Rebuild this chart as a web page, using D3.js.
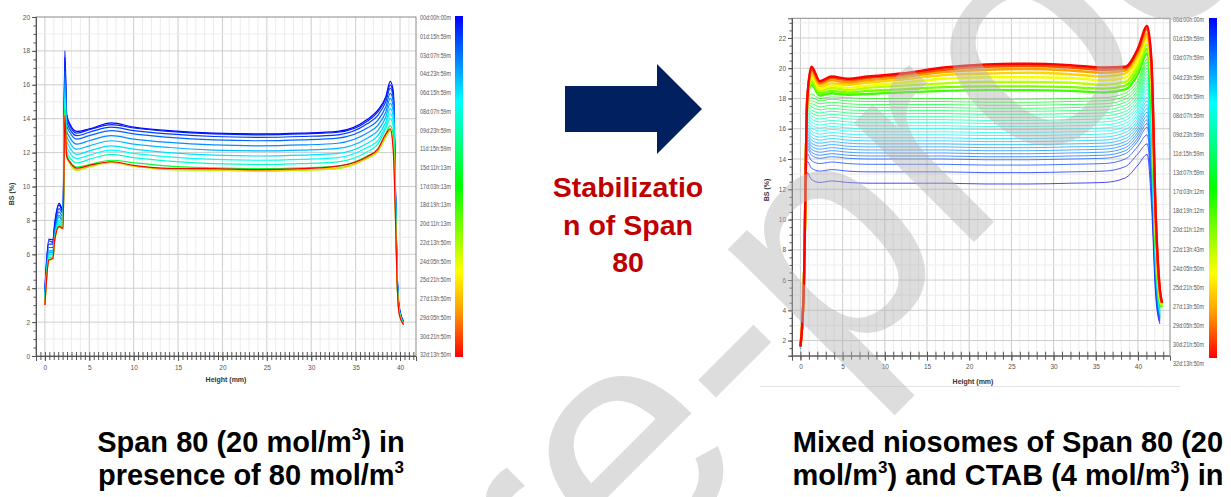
<!DOCTYPE html>
<html>
<head>
<meta charset="utf-8">
<script src="https://cdn.jsdelivr.net/npm/d3@7"></script>
<style>
  body { margin: 0; background: #fff; }
  svg { display: block; }
</style>
</head>
<body>
<svg id="fig" width="1231" height="497"></svg>
<script>
// ---- left panel: Span 80 + 80 mol/m3 ----
var heightsLeft = [0, 0.45, 0.9, 1.1, 1.6, 2.05, 2.25, 2.45, 2.8, 3.6, 5, 7.5, 10, 14, 19, 24, 29, 33, 36.3, 37.5, 38.4, 38.9, 39.25, 39.5, 39.65, 39.9, 40.4];
var timesLeft = [0, 0.03, 0.06, 0.10, 0.14, 0.18, 0.22, 0.26, 0.30, 0.45, 0.65, 0.82, 1.0];
var bsLeft = [
  [3.9, 6.9, 6.85, 7.8, 9.0, 8.6, 18.0, 14.3, 13.7, 13.25, 13.4, 13.75, 13.5, 13.3, 13.15, 13.1, 13.15, 13.25, 13.95, 14.5, 15.3, 16.2, 15.6, 9.5, 5.5, 2.9, 2.05],
  [3.8, 6.8, 6.7, 7.7, 8.9, 8.5, 17.6, 14.1, 13.6, 13.15, 13.35, 13.65, 13.45, 13.25, 13.1, 13.05, 13.1, 13.2, 13.85, 14.4, 15.2, 16.0, 15.4, 9.4, 5.4, 2.9, 2.0],
  [3.7, 6.6, 6.6, 7.5, 8.7, 8.4, 17.2, 13.9, 13.4, 13.0, 13.2, 13.5, 13.3, 13.1, 12.95, 12.9, 12.95, 13.05, 13.7, 14.2, 15.0, 15.8, 15.2, 9.3, 5.3, 2.8, 1.98],
  [3.6, 6.4, 6.4, 7.3, 8.5, 8.2, 16.8, 13.6, 13.2, 12.8, 13.0, 13.3, 13.1, 12.9, 12.75, 12.7, 12.75, 12.85, 13.45, 13.9, 14.7, 15.5, 15.0, 9.2, 5.2, 2.8, 1.97],
  [3.5, 6.2, 6.2, 7.1, 8.3, 8.0, 16.4, 13.3, 12.9, 12.5, 12.7, 13.0, 12.8, 12.6, 12.45, 12.4, 12.45, 12.55, 13.15, 13.6, 14.4, 15.2, 14.7, 9.1, 5.1, 2.75, 1.95],
  [3.4, 6.1, 6.1, 7.0, 8.2, 7.9, 16.0, 13.0, 12.6, 12.2, 12.4, 12.7, 12.5, 12.3, 12.15, 12.1, 12.15, 12.25, 12.85, 13.3, 14.1, 14.9, 14.4, 9.0, 5.0, 2.7, 1.94],
  [3.3, 6.0, 6.0, 6.9, 8.0, 7.8, 15.6, 12.7, 12.3, 11.9, 12.1, 12.4, 12.2, 12.0, 11.85, 11.8, 11.85, 11.95, 12.55, 13.0, 13.8, 14.6, 14.1, 8.8, 5.0, 2.7, 1.92],
  [3.2, 5.9, 5.9, 6.9, 7.9, 7.7, 15.2, 12.4, 12.0, 11.65, 11.85, 12.15, 11.95, 11.75, 11.6, 11.55, 11.6, 11.7, 12.3, 12.7, 13.6, 14.3, 13.8, 8.7, 4.9, 2.65, 1.9],
  [3.1, 5.8, 5.8, 6.8, 7.8, 7.6, 14.9, 12.1, 11.7, 11.4, 11.6, 11.9, 11.7, 11.5, 11.35, 11.3, 11.35, 11.45, 12.05, 12.5, 13.4, 14.0, 13.5, 8.5, 4.9, 2.6, 1.88],
  [3.05, 5.7, 5.75, 6.8, 7.7, 7.55, 14.6, 11.9, 11.5, 11.15, 11.3, 11.55, 11.4, 11.2, 11.1, 11.05, 11.1, 11.2, 11.8, 12.2, 13.1, 13.6, 13.0, 8.3, 4.8, 2.6, 1.86],
  [3.0, 5.65, 5.7, 6.8, 7.6, 7.5, 14.3, 11.8, 11.35, 10.95, 11.15, 11.4, 11.2, 11.0, 10.95, 10.9, 10.95, 11.05, 11.65, 12.05, 12.9, 13.3, 12.5, 8.1, 4.8, 2.55, 1.85],
  [3.0, 5.65, 5.75, 6.8, 7.6, 7.5, 14.2, 11.8, 11.4, 11.0, 11.2, 11.45, 11.2, 11.05, 11.0, 10.95, 11.0, 11.1, 11.7, 12.1, 13.0, 13.35, 12.3, 8.0, 4.8, 2.55, 1.85],
  [3.0, 5.66, 5.76, 6.84, 7.63, 7.53, 14.2, 11.8, 11.45, 11.08, 11.25, 11.46, 11.25, 11.07, 11.05, 11.0, 11.05, 11.2, 11.76, 12.2, 13.1, 13.4, 12.0, 7.9, 4.7, 2.5, 1.85]
];
var legendLeft = ["00d:00h:00m", "01d:15h:59m", "03d:07h:59m", "04d:23h:59m", "06d:15h:59m", "08d:07h:59m", "09d:23h:59m", "11d:15h:59m", "15d:11h:13m", "17d:03h:13m", "18d:19h:13m", "20d:11h:13m", "22d:13h:50m", "24d:05h:50m", "25d:21h:50m", "27d:13h:50m", "29d:05h:50m", "30d:21h:50m", "32d:13h:50m"];

// ---- right panel: mixed niosomes Span 80 + CTAB ----
var heightsRight = [0, 0.4, 0.8, 1.3, 2.3, 3.7, 5.6, 8, 12, 17, 22, 27, 32, 36, 38.5, 40, 41.1, 41.6, 42.1, 42.6, 42.85];
var timesRight = [0, 0.03, 0.06, 0.09, 0.105, 0.12, 0.135, 0.15, 0.17, 0.19, 0.21, 0.23, 0.25, 0.27, 0.29, 0.31, 0.335, 0.36, 0.385, 0.41, 0.435, 0.46, 0.485, 0.51,
                  0.56, 0.62, 0.68, 0.74, 0.80, 0.86, 0.93, 1.0];
var bsRight = [
  [1.5, 5.5, 13.1, 12.65, 12.45, 12.55, 12.45, 12.4, 12.4, 12.4, 12.35, 12.35, 12.4, 12.45, 12.75, 13.6, 14.3, 11.0, 5.0, 3.1, null],
  [1.5, 5.5, 13.85, 13.4, 13.2, 13.3, 13.2, 13.15, 13.15, 13.15, 13.1, 13.1, 13.15, 13.2, 13.5, 14.35, 15.0, 11.8, 5.3, 3.2, null],
  [1.5, 5.5, 14.35, 13.9, 13.7, 13.8, 13.7, 13.65, 13.65, 13.65, 13.6, 13.6, 13.65, 13.7, 14.0, 14.85, 15.6, 12.3, 5.6, 3.3, null],
  [1.5, 5.5, 14.7, 14.25, 14.05, 14.15, 14.05, 14.0, 14.0, 14.0, 13.95, 13.95, 14.0, 14.05, 14.35, 15.2, 16.1, 12.8, 5.9, 3.4, null],
  [1.5, 5.5, 14.9, 14.45, 14.25, 14.35, 14.25, 14.2, 14.2, 14.2, 14.15, 14.15, 14.2, 14.25, 14.55, 15.4, 16.35, 13.05, 6.05, 3.45, null],
  [1.5, 5.5, 15.1, 14.65, 14.45, 14.55, 14.45, 14.4, 14.4, 14.4, 14.35, 14.35, 14.4, 14.45, 14.75, 15.6, 16.6, 13.3, 6.2, 3.5, null],
  [1.5, 5.5, 15.3, 14.85, 14.65, 14.75, 14.65, 14.6, 14.6, 14.6, 14.55, 14.55, 14.6, 14.65, 14.95, 15.8, 16.85, 13.55, 6.35, 3.55, null],
  [1.5, 5.5, 15.5, 15.05, 14.85, 14.95, 14.85, 14.8, 14.8, 14.8, 14.75, 14.75, 14.8, 14.85, 15.15, 16.0, 17.1, 13.8, 6.5, 3.6, null],
  [1.5, 5.5, 15.7, 15.25, 15.05, 15.15, 15.05, 15.0, 15.0, 15.0, 14.95, 14.95, 15.0, 15.05, 15.35, 16.2, 17.35, 14.05, 6.65, 3.65, null],
  [1.5, 5.5, 15.9, 15.45, 15.25, 15.35, 15.25, 15.2, 15.2, 15.2, 15.15, 15.15, 15.2, 15.25, 15.55, 16.4, 17.6, 14.3, 6.8, 3.7, null],
  [1.5, 5.5, 16.1, 15.65, 15.45, 15.55, 15.45, 15.4, 15.4, 15.4, 15.35, 15.35, 15.4, 15.45, 15.75, 16.6, 17.85, 14.55, 6.95, 3.75, null],
  [1.5, 5.5, 16.3, 15.85, 15.65, 15.75, 15.65, 15.6, 15.6, 15.6, 15.55, 15.55, 15.6, 15.65, 15.95, 16.8, 18.1, 14.8, 7.1, 3.8, null],
  [1.5, 5.5, 16.5, 16.05, 15.85, 15.95, 15.85, 15.8, 15.8, 15.8, 15.75, 15.75, 15.8, 15.85, 16.15, 17.0, 18.35, 15.05, 7.25, 3.85, null],
  [1.5, 5.5, 16.7, 16.25, 16.05, 16.15, 16.05, 16.0, 16.0, 16.0, 15.95, 15.95, 16.0, 16.05, 16.35, 17.2, 18.6, 15.3, 7.4, 3.9, null],
  [1.5, 5.5, 16.9, 16.45, 16.25, 16.35, 16.25, 16.2, 16.2, 16.2, 16.15, 16.15, 16.2, 16.25, 16.55, 17.4, 18.8, 15.55, 7.5, 3.95, null],
  [1.6, 5.5, 17.1, 16.65, 16.45, 16.55, 16.45, 16.4, 16.4, 16.4, 16.35, 16.35, 16.4, 16.45, 16.75, 17.6, 19.0, 15.8, 7.6, 4.0, null],
  [1.6, 5.5, 17.25, 16.85, 16.65, 16.75, 16.65, 16.6, 16.6, 16.6, 16.55, 16.55, 16.6, 16.65, 16.95, 17.8, 19.2, 16.05, 7.7, 4.05, null],
  [1.6, 5.5, 17.4, 17.05, 16.85, 16.95, 16.85, 16.8, 16.8, 16.8, 16.75, 16.75, 16.8, 16.85, 17.15, 18.0, 19.4, 16.3, 7.8, 4.1, null],
  [1.6, 5.5, 17.5, 17.25, 17.05, 17.15, 17.05, 17.0, 17.0, 17.0, 16.95, 16.95, 17.0, 17.05, 17.35, 18.2, 19.6, 16.55, 7.9, 4.15, null],
  [1.6, 5.5, 17.6, 17.45, 17.25, 17.35, 17.25, 17.2, 17.2, 17.2, 17.15, 17.15, 17.2, 17.25, 17.55, 18.4, 19.8, 16.8, 8.0, 4.2, null],
  [1.6, 5.5, 17.65, 17.65, 17.45, 17.55, 17.45, 17.4, 17.4, 17.4, 17.35, 17.35, 17.4, 17.45, 17.75, 18.6, 20.0, 17.05, 8.1, 4.25, null],
  [1.6, 5.5, 17.7, 17.85, 17.65, 17.75, 17.65, 17.6, 17.6, 17.6, 17.55, 17.55, 17.6, 17.65, 17.95, 18.8, 20.2, 17.3, 8.2, 4.3, null],
  [1.6, 5.5, 17.7, 18.05, 17.85, 17.95, 17.85, 17.8, 17.8, 17.8, 17.75, 17.75, 17.8, 17.85, 18.15, 19.0, 20.4, 17.55, 8.3, 4.35, null],
  [1.6, 5.5, 17.7, 18.3, 18.0, 18.1, 18.05, 18.0, 18.0, 18.0, 17.95, 17.95, 18.0, 18.05, 18.35, 19.2, 20.6, 17.8, 8.4, 4.4, null],
  [1.7, 5.5, 17.6, 18.9, 18.2, 18.35, 18.25, 18.3, 18.4, 18.5, 18.55, 18.55, 18.5, 18.4, 18.6, 19.6, 21.0, 18.3, 8.7, 4.6, 4.2],
  [1.7, 5.5, 17.7, 19.1, 18.35, 18.5, 18.4, 18.5, 18.6, 18.75, 18.8, 18.8, 18.75, 18.65, 18.85, 19.9, 21.3, 18.7, 9.0, 4.7, 4.3],
  [1.7, 5.5, 17.7, 19.3, 18.5, 18.7, 18.55, 18.7, 18.85, 19.0, 19.1, 19.1, 19.05, 18.9, 19.1, 20.2, 21.6, 19.1, 9.3, 4.8, 4.3],
  [1.7, 5.5, 17.8, 19.5, 18.65, 18.85, 18.7, 18.85, 19.05, 19.3, 19.4, 19.4, 19.35, 19.2, 19.4, 20.5, 21.9, 19.4, 9.6, 4.9, 4.4],
  [1.7, 5.5, 17.8, 19.65, 18.8, 19.0, 18.9, 19.05, 19.25, 19.55, 19.65, 19.7, 19.6, 19.45, 19.65, 20.8, 22.1, 19.7, 9.8, 5.0, 4.4],
  [1.7, 5.5, 17.9, 19.8, 18.95, 19.2, 19.05, 19.2, 19.4, 19.75, 19.9, 19.95, 19.85, 19.7, 19.85, 21.0, 22.3, 20.0, 10.0, 5.1, 4.5],
  [1.6, 5.5, 17.9, 19.95, 19.05, 19.35, 19.2, 19.35, 19.55, 19.9, 20.1, 20.15, 20.05, 19.9, 20.0, 21.2, 22.6, 20.3, 10.3, 5.3, 4.5],
  [1.6, 5.5, 17.9, 20.1, 19.15, 19.45, 19.3, 19.45, 19.65, 20.05, 20.25, 20.3, 20.2, 20.05, 20.1, 21.3, 22.8, 20.5, 10.5, 5.4, 4.5]
];
var legendRight = ["00d:00h:00m", "01d:15h:59m", "03d:07h:59m", "04d:23h:59m", "06d:15h:59m", "08d:07h:59m", "09d:23h:59m", "11d:15h:59m", "13d:07h:59m", "17d:03h:12m", "18d:19h:12m", "20d:11h:12m", "22d:13h:43m", "24d:05h:50m", "25d:21h:50m", "27d:13h:50m", "29d:05h:50m", "30d:21h:50m", "32d:13h:50m"];

var captionLeft = ["Span 80 (20 mol/m|3|) in", "presence of 80 mol/m|3|"];
var captionRight = ["Mixed niosomes of Span 80 (20", "mol/m|3|) and CTAB (4 mol/m|3|) in"];
var arrowText = ["Stabilizatio", "n of Span", "80"];

// time (0..1) -> colour, same as the colour bar
var colorStops = [0, 0.25, 0.5, 0.75, 0.87, 1];
var colorList = ["#0000ff", "#00ffff", "#00ff00", "#ffff00", "#ff9900", "#ff0000"];
var timeColor = d3.scaleLinear().domain(colorStops).range(colorList);

var svg = d3.select('#fig');
svg.append('rect').attr('width', 1231).attr('height', 497).attr('fill', '#fff');
var defs = svg.append('defs');

var tickFont = "'Liberation Sans', Arial, sans-serif";

function drawPanel(p) {
  var x = d3.scaleLinear().domain(p.xDomain).range(p.xRange);
  var y = d3.scaleLinear().domain(p.yDomain).range(p.yRange);
  var g = svg.append('g');
  var x0 = p.xRange[0], x1 = p.xRange[1], yb = p.yRange[0], yt = p.yRange[1];

  // grid
  var grid = g.append('g');
  d3.range(Math.ceil(p.xDomain[0]), p.xDomain[1], 1).forEach(function(v) {
    grid.append('line').attr('x1', x(v)).attr('x2', x(v)).attr('y1', yt).attr('y2', yb)
      .attr('stroke', v % 5 === 0 ? '#cdcdcd' : '#ececec').attr('stroke-width', 1);
  });
  d3.range(Math.ceil(p.yDomain[0]), p.yDomain[1], 1).forEach(function(v) {
    grid.append('line').attr('x1', x0).attr('x2', x1).attr('y1', y(v)).attr('y2', y(v))
      .attr('stroke', v % 2 === 0 ? '#cdcdcd' : '#ececec').attr('stroke-width', 1);
  });

  // curves
  defs.append('clipPath').attr('id', p.id + '-clip')
    .append('rect').attr('x', x0).attr('y', yt).attr('width', x1 - x0).attr('height', yb - yt);
  var line = d3.line()
    .defined(function(d) { return d[1] != null; })
    .x(function(d) { return x(d[0]); })
    .y(function(d) { return y(d[1]); })
    .curve(d3.curveMonotoneX);
  var curves = g.append('g').attr('clip-path', 'url(#' + p.id + '-clip)');
  p.values.forEach(function(vals, i) {
    var pts = p.heights.map(function(h, j) { return [h, vals[j]]; });
    curves.append('path').attr('d', line(pts)).attr('fill', 'none')
      .attr('stroke', timeColor(p.times[i]))
      .attr('stroke-width', p.width(p.times[i]))
      .attr('stroke-opacity', p.opacity(p.times[i]))
      .attr('stroke-linejoin', 'round');
  });

  // frame
  g.append('rect').attr('x', x0).attr('y', yt).attr('width', x1 - x0).attr('height', yb - yt)
    .attr('fill', 'none').attr('stroke', '#8a8a8a').attr('stroke-width', 1);

  // y axis
  g.append('g').attr('transform', 'translate(' + x0 + ',0)')
    .call(d3.axisLeft(y).tickValues(d3.range(p.yLabelFrom, p.yDomain[1] + 0.01, 2)).tickSize(4).tickPadding(2).tickFormat(d3.format('d')));
  g.append('g').attr('transform', 'translate(' + x0 + ',0)')
    .call(d3.axisLeft(y).tickValues(d3.range(Math.ceil(p.yDomain[0] * 2) / 2, p.yDomain[1], 0.5)).tickSize(2.5).tickFormat(''))
    .select('.domain').remove();

  // x axis, ticks crossing the axis line
  g.append('g').attr('transform', 'translate(0,' + yb + ')')
    .call(d3.axisBottom(x).tickValues(d3.range(0, p.xDomain[1], 5)).tickSize(5).tickPadding(4).tickFormat(d3.format('d')));
  g.append('g').attr('transform', 'translate(0,' + yb + ')')
    .call(d3.axisBottom(x).tickValues(d3.range(Math.ceil(p.xDomain[0]), p.xDomain[1], p.xMinor)).tickSize(4).tickFormat(''))
    .select('.domain').remove();
  g.append('g').attr('transform', 'translate(0,' + yb + ')')
    .call(d3.axisTop(x).tickValues(d3.range(Math.ceil(p.xDomain[0]), p.xDomain[1], p.xMinor)).tickSize(4).tickFormat(''))
    .select('.domain').remove();

  g.selectAll('.domain').attr('stroke', '#555');
  g.selectAll('.tick line').attr('stroke', '#555');
  g.selectAll('.tick text').attr('font-family', tickFont).attr('font-size', 6.5).attr('fill', '#555');

  // axis titles
  g.append('text').attr('transform', 'translate(' + p.yTitle[0] + ',' + p.yTitle[1] + ') rotate(-90)')
    .attr('text-anchor', 'middle').attr('font-family', 'Liberation Sans, Arial, sans-serif')
    .attr('font-weight', 'bold').attr('font-size', 7).attr('fill', '#333').text('BS (%)');
  g.append('text').attr('x', p.xTitle[0]).attr('y', p.xTitle[1])
    .attr('text-anchor', 'middle').attr('font-family', 'Liberation Sans, Arial, sans-serif')
    .attr('font-weight', 'bold').attr('font-size', 7).attr('fill', '#333').text('Height (mm)');

  // colour bar legend
  var grad = defs.append('linearGradient').attr('id', p.id + '-grad')
    .attr('x1', 0).attr('y1', 0).attr('x2', 0).attr('y2', 1);
  colorStops.forEach(function(s, i) {
    grad.append('stop').attr('offset', s).attr('stop-color', colorList[i]);
  });
  g.append('rect').attr('x', p.bar[0]).attr('y', p.bar[1]).attr('width', p.bar[2]).attr('height', p.bar[3])
    .attr('fill', 'url(#' + p.id + '-grad)');
  var ly = d3.scaleLinear().domain([0, p.legend.length - 1]).range(p.legendY);
  g.append('g').selectAll('text').data(p.legend).join('text')
    .attr('x', p.legendX).attr('y', function(d, i) { return ly(i); })
    .attr('dy', '0.35em').attr('font-family', tickFont).attr('font-size', 6.5).attr('fill', '#555')
    .attr('textLength', 31).attr('lengthAdjust', 'spacingAndGlyphs')
    .text(function(d) { return d; });
}

drawPanel({
  id: 'left', xDomain: [-1, 41.8], xRange: [36, 416], yDomain: [0, 20], yRange: [356, 17],
  yLabelFrom: 0, xMinor: 0.5,
  heights: heightsLeft, values: bsLeft, times: timesLeft,
  width: function(t) { return 1.2; },
  opacity: function(t) { return 1; },
  yTitle: [14, 194], xTitle: [226, 382],
  bar: [455, 16, 8, 341], legend: legendLeft, legendX: 420, legendY: [18, 355]
});

drawPanel({
  id: 'right', xDomain: [-1, 43.8], xRange: [792, 1170], yDomain: [1, 23.3], yRange: [355.7, 18.3],
  yLabelFrom: 2, xMinor: 1,
  heights: heightsRight, values: bsRight, times: timesRight,
  width: function(t) { return t > 0.53 ? 2.4 : 0.9; },
  opacity: function(t) { return t > 0.53 ? 1 : 0.8; },
  yTitle: [769, 190], xTitle: [973, 384],
  bar: [1209, 18, 8, 340], legend: legendRight, legendX: 1173, legendY: [20, 364]
});

// thin border line under right figure
svg.append('line').attr('x1', 760).attr('x2', 1180).attr('y1', 386.5).attr('y2', 386.5)
  .attr('stroke', '#e4e4e4').attr('stroke-width', 1);

// arrow
svg.append('path')
  .attr('d', d3.line()([[565, 86], [657, 86], [657, 64], [702, 109], [657, 154], [657, 132], [565, 132]]) + 'Z')
  .attr('fill', '#002060');
svg.append('g').selectAll('text').data(arrowText).join('text')
  .attr('x', 628).attr('y', function(d, i) { return 197 + i * 37.5; })
  .attr('text-anchor', 'middle').attr('font-family', 'Liberation Sans, Arial, sans-serif')
  .attr('font-weight', 'bold').attr('font-size', 28.5).attr('fill', '#c00000')
  .text(function(d) { return d; });

// captions with superscript 3
function caption(lines, cx) {
  lines.forEach(function(s, i) {
    var t = svg.append('text').attr('x', cx).attr('y', 452 + i * 33)
      .attr('text-anchor', 'middle').attr('font-family', 'Liberation Sans, Arial, sans-serif')
      .attr('font-weight', 'bold').attr('font-size', 29).attr('fill', '#000');
    s.split('|').forEach(function(part, k) {
      var sp = t.append('tspan').text(part);
      if (k % 2 === 1) sp.attr('font-size', 17).attr('baseline-shift', '70%');
    });
  });
}
caption(captionLeft, 251);
caption(captionRight, 1008);

// watermark
var wm = svg.append('g').attr('transform', 'translate(405,811) rotate(-45)');
var wmText = wm.append('text').attr('font-family', 'Liberation Sans, Arial, sans-serif')
  .attr('font-size', 320).attr('fill', '#b4b4b4').attr('opacity', 0.45).text('Journal Pre-proof');
var pre = wmText.node().getSubStringLength(0, 8);
wmText.attr('x', -pre);
</script>
</body>
</html>
